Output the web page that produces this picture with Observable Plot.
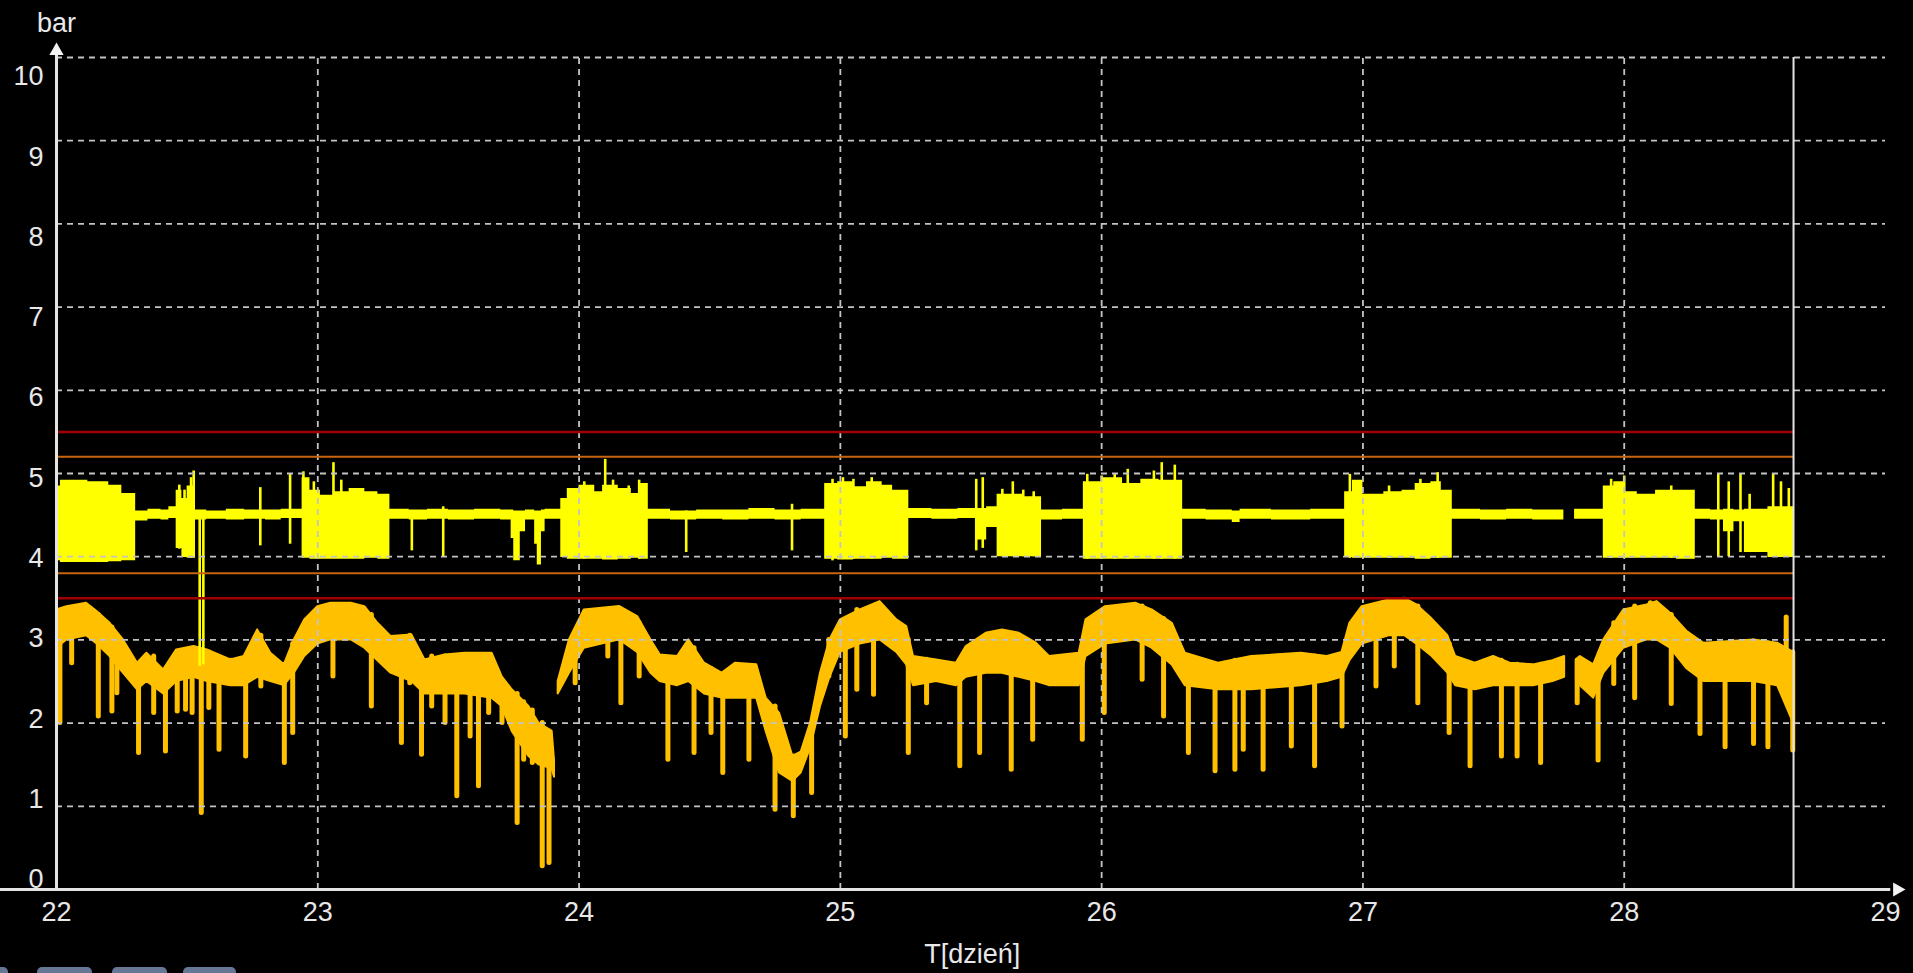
<!DOCTYPE html>
<html><head><meta charset="utf-8">
<script src="https://cdn.jsdelivr.net/npm/d3@7"></script>
<script src="https://cdn.jsdelivr.net/npm/@observablehq/plot@0.6"></script>
<style>
html,body{margin:0;padding:0;background:#000;overflow:hidden;width:1913px;height:973px;}
#chart{position:absolute;left:0;top:0;}
.tab{position:absolute;top:967px;height:14px;background:#667796;border-radius:5px;}
</style></head><body>
<div id="chart"></div>
<div class="tab" style="left:-8px;width:16px"></div>
<div class="tab" style="left:37px;width:55px"></div>
<div class="tab" style="left:112px;width:55px"></div>
<div class="tab" style="left:183px;width:53px"></div>
<script>
// ---- ticks / reference values ----
const xTicks = [22, 23, 24, 25, 26, 27, 28, 29];
const yTicks = [0, 1, 2, 3, 4, 5, 6, 7, 8, 9, 10];
const gridXValues = [23, 24, 25, 26, 27, 28];
const gridYValues = [1, 2, 3, 4, 5, 6, 7, 8, 9, 10];
const alarmLimits = [5.5, 3.5];
const warnLimits = [5.2, 3.8];
const dataEnd = 28.648;
const yLabel = "bar";
const xLabel = "T[dzień]";

// ---- upper (yellow) series: envelope samples (step) ----
const yelT  = [22.000,22.015,22.120,22.200,22.250,22.303,22.350,22.400,22.430,22.458,22.480,22.500,22.532,22.575,22.650,22.720,22.800,22.860,22.940,22.970,23.010,23.060,23.120,23.180,23.230,23.276,23.350,23.420,23.500,23.600,23.700,23.740,23.750,23.775,23.795,23.830,23.840,23.856,23.870,23.930,23.955,24.000,24.060,24.090,24.150,24.200,24.230,24.265,24.350,24.450,24.550,24.650,24.750,24.850,24.940,24.990,25.050,25.100,25.160,25.200,25.262,25.350,25.450,25.520,25.560,25.600,25.700,25.770,25.850,25.930,26.000,26.080,26.150,26.220,26.310,26.400,26.500,26.530,26.650,26.800,26.930,26.960,27.000,27.080,27.150,27.200,27.260,27.300,27.342,27.450,27.550,27.650,27.769,27.770,27.810,27.920,27.960,28.000,28.050,28.120,28.200,28.272,28.330,28.380,28.420,28.460,28.550,28.648];
const yelLo = [3.95,3.93,3.93,3.94,3.95,4.43,4.45,4.44,4.46,4.10,3.99,3.98,4.44,4.45,4.44,4.45,4.44,4.46,3.98,3.97,3.97,3.97,3.97,3.98,3.97,4.45,4.44,4.45,4.44,4.45,4.44,4.22,3.95,4.30,4.44,4.15,3.90,4.30,4.45,3.99,3.97,3.97,3.97,3.96,3.97,3.98,3.97,4.45,4.44,4.45,4.44,4.45,4.44,4.45,3.97,3.96,3.97,3.97,3.98,3.97,4.46,4.45,4.46,4.20,4.35,4.00,4.00,4.44,4.45,3.97,3.97,3.97,3.97,3.97,4.45,4.44,4.41,4.45,4.44,4.45,3.99,3.98,3.98,3.98,3.98,3.97,3.98,3.98,4.45,4.44,4.45,4.44,4.44,NaN,4.45,3.98,3.98,3.98,3.98,3.98,3.97,4.45,4.44,4.30,4.42,4.05,3.99,3.99];
const yelHi = [4.85,4.92,4.90,4.86,4.76,4.55,4.57,4.56,4.60,4.80,4.70,4.85,4.56,4.55,4.57,4.56,4.56,4.57,4.95,4.80,4.74,4.78,4.82,4.78,4.75,4.57,4.56,4.57,4.56,4.57,4.56,4.56,4.55,4.55,4.56,4.55,4.55,4.56,4.57,4.70,4.82,4.86,4.78,4.86,4.82,4.76,4.88,4.57,4.55,4.56,4.56,4.58,4.56,4.57,4.88,4.90,4.84,4.90,4.86,4.80,4.58,4.57,4.58,4.58,4.60,4.75,4.72,4.56,4.57,4.90,4.95,4.88,4.93,4.92,4.57,4.56,4.55,4.57,4.56,4.57,4.78,4.92,4.75,4.78,4.80,4.88,4.90,4.80,4.57,4.56,4.57,4.56,4.56,NaN,4.57,4.85,4.90,4.78,4.75,4.80,4.80,4.57,4.56,4.57,4.56,4.57,4.60,4.60];
// upper series: individual spikes (time, low end, high end)
const yelSpikeT  = [22.470,22.490,22.515,22.525,22.548,22.562,22.780,22.894,22.945,22.985,23.060,23.090,23.360,23.480,24.020,24.100,24.130,24.190,24.230,24.410,24.815,24.970,25.010,25.050,25.120,25.520,25.545,25.620,25.660,25.700,25.740,25.945,26.000,26.050,26.100,26.200,26.230,26.280,26.950,27.100,27.220,27.286,27.950,28.000,28.180,28.360,28.400,28.445,28.480,28.570,28.600,28.630];
const yelSpikeLo = [4.09,4.00,3.98,4.00,2.68,2.70,4.13,4.15,3.99,3.98,4.00,3.98,4.07,3.99,3.97,3.97,3.97,3.98,3.97,4.05,4.07,3.95,3.97,3.97,3.97,4.07,4.10,4.00,4.00,4.00,4.00,3.97,3.97,3.97,3.97,3.97,3.97,3.97,3.98,3.98,3.98,3.98,3.98,3.98,3.98,3.99,4.00,4.05,4.05,3.99,3.99,3.99];
const yelSpikeHi = [4.86,4.80,4.95,5.03,4.55,4.55,4.83,5.00,5.02,4.90,5.13,4.92,4.55,4.60,4.90,5.17,4.92,4.85,4.92,4.55,4.63,4.93,4.95,4.93,4.95,4.93,4.95,4.81,4.90,4.80,4.78,4.99,4.97,5.00,5.05,5.03,5.13,5.10,4.99,4.85,4.93,5.01,4.93,4.97,4.85,5.00,4.90,5.00,4.75,5.00,4.90,4.82];

// ---- lower (orange) series: envelope samples ----
const ornT  = [22.000,22.040,22.115,22.155,22.205,22.256,22.310,22.346,22.410,22.460,22.526,22.577,22.667,22.718,22.770,22.820,22.872,22.910,22.950,23.000,23.050,23.128,23.180,23.230,23.280,23.360,23.410,23.487,23.564,23.667,23.705,23.744,23.808,23.846,23.897,23.906,23.912,23.920,23.963,24.020,24.088,24.156,24.224,24.275,24.310,24.377,24.420,24.480,24.547,24.598,24.680,24.716,24.767,24.818,24.850,24.886,24.924,24.960,25.000,25.076,25.152,25.216,25.254,25.280,25.368,25.444,25.482,25.558,25.620,25.685,25.750,25.800,25.914,25.940,26.015,26.130,26.193,26.270,26.320,26.447,26.574,26.764,26.863,26.920,26.950,26.997,27.100,27.160,27.206,27.265,27.325,27.355,27.430,27.500,27.563,27.653,27.727,27.772,27.790,27.817,27.832,27.883,27.922,27.998,28.087,28.125,28.177,28.241,28.305,28.410,28.496,28.587,28.648];
const ornLo = [2.90,3.00,3.05,2.95,2.80,2.60,2.40,2.50,2.35,2.50,2.55,2.50,2.45,2.45,2.55,2.50,2.45,2.60,2.80,2.95,3.00,3.00,2.90,2.75,2.60,2.50,2.35,2.35,2.35,2.30,2.20,1.90,1.60,1.50,1.45,1.35,NaN,2.35,2.60,2.90,2.95,3.00,2.85,2.60,2.50,2.45,2.50,2.35,2.30,2.30,2.30,1.90,1.40,1.30,1.40,1.70,2.20,2.55,2.85,2.95,3.00,2.85,2.70,2.45,2.50,2.45,2.55,2.60,2.60,2.55,2.50,2.45,2.45,2.80,2.95,3.00,2.90,2.70,2.45,2.40,2.40,2.45,2.50,2.55,2.75,2.95,3.05,3.05,2.95,2.80,2.60,2.45,2.40,2.45,2.45,2.45,2.50,2.55,NaN,2.50,2.45,2.30,2.60,2.90,3.00,3.00,2.90,2.65,2.50,2.50,2.50,2.45,2.00];
const ornHi = [3.36,3.40,3.44,3.34,3.20,3.00,2.72,2.84,2.64,2.88,2.92,2.88,2.76,2.80,3.12,2.84,2.70,3.00,3.24,3.40,3.44,3.44,3.40,3.20,3.04,3.06,2.76,2.82,2.84,2.84,2.56,2.40,2.20,2.00,1.90,1.55,NaN,2.50,3.00,3.36,3.38,3.40,3.28,3.00,2.82,2.80,3.00,2.72,2.60,2.72,2.70,2.30,2.12,1.60,1.65,2.00,2.60,3.00,3.24,3.36,3.46,3.24,3.16,2.80,2.76,2.72,2.92,3.08,3.12,3.08,2.96,2.80,2.84,3.24,3.40,3.44,3.36,3.20,2.84,2.72,2.80,2.84,2.80,2.85,3.20,3.40,3.48,3.50,3.42,3.25,3.05,2.80,2.72,2.80,2.72,2.70,2.75,2.80,NaN,2.76,2.80,2.70,3.00,3.36,3.42,3.46,3.32,3.10,2.96,2.98,3.00,2.96,2.85];
// lower series: downward dips (time, bottom, top)
const ornSpikeT  = [22.013,22.058,22.160,22.212,22.231,22.314,22.372,22.417,22.462,22.494,22.519,22.554,22.583,22.622,22.667,22.724,22.782,22.872,22.904,23.058,23.205,23.320,23.352,23.397,23.436,23.487,23.532,23.583,23.615,23.654,23.705,23.763,23.788,23.821,23.859,23.885,23.985,24.110,24.160,24.230,24.340,24.440,24.505,24.550,24.650,24.750,24.820,24.890,24.956,25.019,25.063,25.127,25.260,25.330,25.457,25.533,25.654,25.736,25.926,26.010,26.155,26.237,26.332,26.434,26.510,26.542,26.618,26.726,26.815,26.920,27.050,27.120,27.210,27.330,27.410,27.530,27.590,27.680,27.820,27.900,27.960,28.040,28.100,28.180,28.290,28.386,28.495,28.550,28.620,28.645];
const ornSpikeLo = [2.00,2.72,2.08,2.14,2.36,1.64,2.12,1.66,2.14,2.16,2.12,0.92,2.18,1.68,2.56,1.60,2.44,1.52,1.88,2.56,2.20,1.76,2.48,1.62,2.20,2.00,1.12,1.84,1.24,2.12,2.00,0.80,1.56,1.52,0.28,0.32,2.48,2.80,2.24,2.56,1.56,1.64,1.88,1.40,1.56,0.96,0.88,1.16,2.56,1.84,2.40,2.34,1.64,2.24,1.48,1.64,1.44,1.80,1.80,2.12,2.52,2.08,1.64,1.42,1.44,1.68,1.44,1.72,1.48,1.96,2.44,2.68,2.24,1.88,1.48,1.60,1.60,1.52,2.24,1.55,2.47,2.30,3.03,2.23,1.87,1.71,1.75,1.71,2.40,1.67];
const ornSpikeHi = [3.30,3.30,3.30,3.15,3.05,2.70,2.80,2.60,2.85,2.85,2.85,2.80,2.85,2.75,2.75,2.75,3.05,2.70,2.95,3.40,3.30,3.00,3.05,2.75,2.80,2.80,2.80,2.80,2.80,2.80,2.50,2.35,2.25,2.15,2.00,1.90,3.10,3.35,3.30,3.20,2.75,2.90,2.65,2.55,2.65,2.20,1.60,2.00,3.00,3.24,3.36,3.40,3.00,2.76,2.70,3.00,3.05,2.95,2.80,3.35,3.40,3.25,2.80,2.70,2.75,2.75,2.78,2.80,2.80,2.80,3.35,3.45,3.40,2.95,2.70,2.75,2.70,2.70,2.75,2.70,3.20,3.40,3.44,3.30,2.95,2.95,2.98,2.96,3.27,2.85];

// ---- tables for the library ----
const yelBody = yelT.map((t, i) => ({t, lo: yelLo[i], hi: yelHi[i]}));
const yelSpikes = yelSpikeT.map((t, i) => ({t, lo: yelSpikeLo[i], hi: yelSpikeHi[i]}));
const ornBody = ornT.map((t, i) => ({t, lo: ornLo[i], hi: ornHi[i]}));
const ornSpikes = ornSpikeT.map((t, i) => ({t, lo: ornSpikeLo[i], hi: ornSpikeHi[i]}));

const YEL = "#ffff00", ORN = "#ffc000", GRID = "#c4c4c4", AX = "#e4e4e4", TXT = "#e8e8e8";
const RED = "#a00000", ORG = "#c8640f";
const FONT = "'Liberation Sans', Arial, sans-serif";

const chart = Plot.plot({
  width: 1913, height: 973,
  marginLeft: 56, marginRight: 28, marginTop: 57, marginBottom: 84,
  style: {background: "#000", color: TXT, fontFamily: FONT, overflow: "visible"},
  x: {domain: [22, 29], axis: null},
  y: {domain: [0, 10], axis: null},
  marks: [
    // lower series
    Plot.areaY(ornBody, {x: "t", y1: "lo", y2: "hi", fill: ORN, stroke: ORN, strokeWidth: 2}),
    Plot.ruleX(ornSpikes, {x: "t", y1: "lo", y2: "hi", stroke: ORN, strokeWidth: 5, strokeLinecap: "round"}),
    // upper series
    Plot.areaY(yelBody, {x: "t", y1: "lo", y2: "hi", fill: YEL, curve: "step-after"}),
    Plot.ruleX(yelSpikes, {x: "t", y1: "lo", y2: "hi", stroke: YEL, strokeWidth: 2.6}),
    // grid
    Plot.ruleY(gridYValues, {x1: 22, x2: 29, stroke: GRID, strokeWidth: 1.8, strokeDasharray: "6,5"}),
    Plot.ruleX(gridXValues, {y1: 0, y2: 10, stroke: GRID, strokeWidth: 1.8, strokeDasharray: "6,5"}),
    // limits
    Plot.ruleY(warnLimits, {x1: 22, x2: dataEnd, stroke: ORG, strokeWidth: 2}),
    Plot.ruleY(alarmLimits, {x1: 22, x2: dataEnd, stroke: RED, strokeWidth: 2.5}),
    // end-of-data line
    Plot.ruleX([dataEnd], {y1: 0, y2: 10, stroke: AX, strokeWidth: 2}),
    // axes with arrows
    Plot.ruleX([22], {y1: 0, y2: 10.12, stroke: AX, strokeWidth: 3}),
    Plot.ruleY([0], {x1: 21.78, x2: 29.02, stroke: AX, strokeWidth: 3}),
    Plot.dot([{x: 22, y: 10.08}], {x: "x", y: "y", symbol: "triangle2", r: 6.8, fill: "#f2f2f2"}),
    Plot.dot([{x: 29.045, y: 0}], {x: "x", y: "y", symbol: "triangle2", r: 6.8, fill: "#f2f2f2", rotate: 90}),
    // tick labels
    Plot.text(xTicks, {x: d => d, y: -0.28, text: d => String(d), fill: TXT, fontSize: 27}),
    Plot.text(yTicks, {x: 22, y: d => 0.12 + 0.965 * d, text: d => String(d), dx: -13, textAnchor: "end", fill: TXT, fontSize: 27}),
    // axis titles
    Plot.text([yLabel], {x: 22, y: 10.41, text: d => d, fill: TXT, fontSize: 27}),
    Plot.text([xLabel], {x: 25.505, y: -0.78, text: d => d, fill: TXT, fontSize: 27})
  ]
});
document.getElementById("chart").appendChild(chart);
</script>
</body></html>
